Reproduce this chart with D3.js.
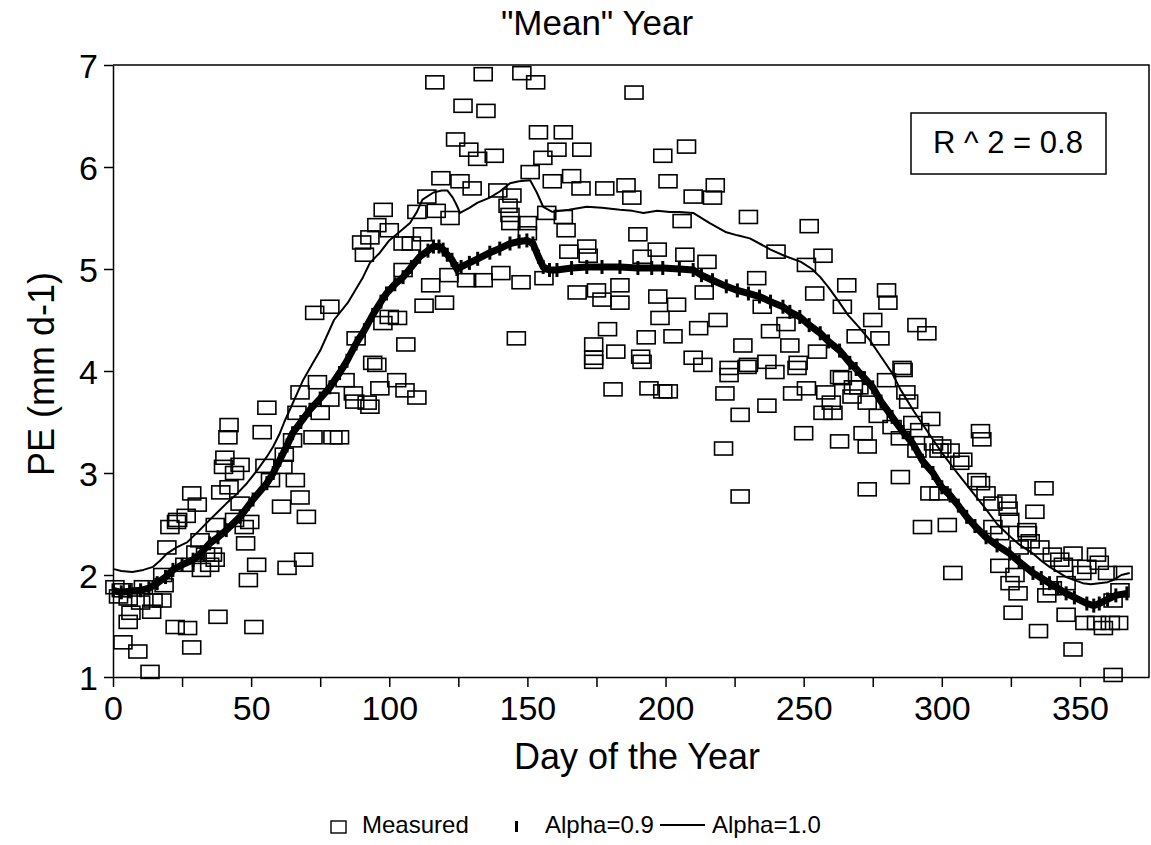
<!DOCTYPE html>
<html>
<head>
<meta charset="utf-8">
<script src="https://cdn.jsdelivr.net/npm/d3@7/dist/d3.min.js"></script>
<style>
  body { margin: 0; background: #fff; }
  svg { display: block; font-family: "Liberation Sans", Arial, Helvetica, sans-serif; }
</style>
</head>
<body>
<svg id="chart" width="1151" height="845"></svg>
<script>
// ---------------- DATA ----------------
const chartTitle = '"Mean" Year';
const xTitle = "Day of the Year";
const yTitle = "PE (mm d-1)";
const r2Label = "R ^ 2 = 0.8";
const legendLabels = ["Measured", "Alpha=0.9", "Alpha=1.0"];
const xTickValues = [0, 25, 50, 75, 100, 125, 150, 175, 200, 225, 250, 275, 300, 325, 350];
const xTickLabels = [0, 50, 100, 150, 200, 250, 300, 350];
const yTickValues = [1, 2, 3, 4, 5, 6, 7];

// Measured points: [day, PE]
const measured = [
  [0.7,1.88],[3.6,1.85],[5.5,1.77],[3.6,1.34],[5.5,1.54],[6.5,1.63],[9,1.25],[11,1.88],[13.4,1.05],[14.5,1.75],[17.7,1.75],[14,1.64],[10,1.73],[18.5,1.9],[2,1.79],
  [20.6,2.47],[23.4,2.54],[19.5,2.27],[22.5,1.49],[27,1.48],[28.5,1.29],[28.5,2.8],[30.5,2.69],[26,2.1],[31.5,2.34],[33.5,2.2],[35,2.1],[30,2.22],[23,2.52],[26.5,2.58],[18,2.0],[32,2.05],
  [38,1.59],[40,3.06],[40.5,3.15],[41.6,3.35],[42,3.47],[42,2.86],[39,2.81],[46,3.08],[48,2.31],[49,1.95],[49.5,2.52],[51,1.49],[52,2.1],[44,2.54],[46,2.7],[37,2.49],[37,2.15],[36,2.2],[47.5,2.47],[44,3.0],
  [54,3.4],[55.7,3.64],[55,3.07],[57,2.93],[61,2.67],[63,2.07],[66,2.93],[67.7,2.76],[69,2.15],[70,2.57],[66.6,3.59],[67.7,3.79],[65,3.32],[62,3.18],[61.5,3.06],
  [72.4,3.35],[74,3.89],[75,3.59],[79.6,3.35],[82,3.35],[78.5,3.72],[73,4.57],[78.5,4.63],[87,3.78],[84,3.91],[88,4.32],
  [92,3.69],[90,5.26],[91,5.14],[95.5,5.43],[97.8,5.58],[93,5.31],[100,5.38],[105,5.25],[95.5,4.06],[96.6,3.83],[102.7,3.91],[105.7,3.81],[93,3.65],[100,4.53],[103,4.52],[106,4.26],[94,4.08],[105,4.99],[97.7,4.47],[87.5,3.7],
  [110,3.74],[116.5,6.83],[124,6.27],[126.7,6.6],[118.7,5.89],[113.6,5.71],[110,5.56],[117,5.57],[122,5.5],[108,5.25],[112,5.34],[115,4.84],[121.6,4.94],[112.6,4.64],[120,4.67],[125.6,5.86],
  [128.8,6.17],[132,6.08],[134,6.91],[135,6.55],[138,6.11],[148,6.92],[153,6.83],[154,6.34],[155.6,6.09],[151,5.95],[130,5.79],[139.3,5.77],[144.4,5.72],[143,5.62],[143.7,5.53],[144,5.45],[150,5.45],[150,5.35],[157,5.55],[159,5.86],[160.7,6.17],[128,4.89],[134,4.89],[140.4,4.96],[147.7,4.87],[156,4.91],[146,4.32],
  [163,6.34],[169.7,6.17],[188.6,6.73],[199,6.11],[166,5.91],[169.4,5.79],[178,5.79],[185.7,5.82],[187.8,5.7],[163,5.51],[164,5.38],[190,5.34],[165,5.17],[171.5,5.22],[172,5.13],[168,4.77],[175,4.79],[183.5,4.84],[183.5,4.67],[177,4.7],[191.5,5.12],[197,5.19],[197.2,4.73],[198,4.52],[179,4.41],[174,4.26],[182,4.19],[174,4.13],[191,4.14],[193,4.33],[174,4.09],[191.5,4.09],[181,3.82],[194,3.83],[199,3.8],[200.9,5.86],
  [207.6,6.2],[210,5.71],[218,5.82],[217,5.7],[206,5.47],[230,5.51],[207,5.14],[215,5.07],[233,4.91],[214,4.77],[204,4.65],[235,4.63],[219,4.5],[212,4.42],[202.7,4.34],[228,4.25],[236.7,4.09],[210,4.13],[223,4.03],[230,4.06],[238,4.39],[201,3.8],[221.5,3.78],[227,3.57],[236.7,3.66],[221,3.24],[227,2.77],[223,3.96],[229.5,4.04],[213.5,4.06],[239.6,3.99],[240,5.17],
  [252,5.42],[257,5.13],[251,5.04],[265.6,4.84],[254,4.76],[264,4.63],[275,4.5],[277.6,4.32],[269,4.34],[243.6,4.46],[245,4.25],[255,4.19],[248,4.08],[250,3.39],[263,3.31],[246,3.78],[251,3.83],[247.6,4.03],[258,3.79],[264,3.93],[268,3.84],[267.5,3.75],[271.5,3.39],[273,3.26],[257,3.59],[260.6,3.59],[260,3.69],[277,3.56],[273,2.84],[280,3.91],[270,3.84],[273,3.69],[280,4.79],[280.5,4.67],[263,3.94],
  [285.6,4.03],[291,4.45],[294.6,4.37],[286,4.01],[287,3.79],[288,3.7],[296,3.53],[285,3.34],[291,3.22],[299,3.22],[293,2.47],[302,2.49],[304,2.02],[285,2.96],[295.7,2.8],[299,2.8],[282,3.45],[289.5,3.49],[292,3.42],[297,3.29],[300,3.26],[303,3.22],[306.5,3.1],[307.6,3.13],
  [314,3.41],[314.5,3.33],[314,2.9],[323.6,2.72],[324,2.65],[337,2.85],[333.7,2.62],[331,2.41],[332,2.33],[321,2.09],[340,2.2],[347.5,2.21],[356,2.2],[344,2.1],[360,2.02],[365.6,2.02],[326.5,2.0],[324.7,1.92],[327.6,1.82],[340,1.87],[338,1.8],[350.7,2.02],[345,1.92],[364.5,1.85],[362,1.75],[325.8,1.63],[345,1.61],[351.8,1.53],[356,1.53],[361,1.53],[364,1.53],[335,1.45],[347.5,1.27],[362,1.02],[358.5,1.48],[312.7,2.93],[316,2.8],[318.5,2.7],[324.6,2.54],[330.8,2.44],[335.5,2.27],[342.7,2.15],[352.5,2.08],[357,2.12],[318.5,2.47],[321,2.41],[328,2.27]
];

// Alpha = 0.9 model: [day, PE]
const alpha09 = [
  [0,1.85],[3,1.83],[6,1.84],[10,1.85],[13,1.87],[16,1.92],[19,1.98],[21.7,2.05],[25,2.1],[29,2.15],[32,2.22],[35,2.31],[38,2.37],[41,2.44],[46,2.57],[50.7,2.74],[55.7,2.9],[58,3.0],[60.4,3.13],[63,3.27],[65,3.39],[68,3.5],[71.3,3.62],[75,3.73],[78.5,3.84],[82,3.98],[84.7,4.1],[88,4.27],[91,4.4],[94,4.55],[97,4.68],[99,4.76],[102,4.85],[105,4.92],[108,5.02],[111,5.12],[114,5.18],[116,5.22],[118,5.22],[119.5,5.19],[121,5.14],[122.7,5.09],[124.5,5.0],[126,5.02],[129,5.06],[132,5.1],[136.4,5.16],[140,5.2],[143.7,5.25],[147,5.27],[149.8,5.28],[152,5.25],[154,5.12],[155.7,5.02],[158,4.99],[160.7,4.99],[166,5.01],[171.5,5.02],[177,5.02],[183.5,5.02],[190,5.01],[195,5.01],[199,5.01],[205,5.0],[210,4.99],[213,4.94],[217,4.89],[222,4.83],[226,4.79],[230,4.76],[234,4.73],[238,4.68],[242.5,4.63],[245,4.58],[248.6,4.53],[252,4.45],[256,4.37],[259,4.29],[263,4.2],[266.7,4.08],[269,4.02],[272,3.93],[275,3.84],[278,3.7],[282,3.55],[286,3.4],[289.5,3.29],[293,3.12],[296.8,3.0],[300,2.86],[303,2.78],[306,2.68],[309,2.57],[312,2.48],[316,2.37],[320,2.29],[324.6,2.21],[328,2.13],[333,2.02],[336,1.97],[339,1.92],[342,1.87],[345,1.82],[348,1.78],[352.5,1.72],[355,1.7],[357,1.72],[360,1.76],[363,1.8],[367,1.82]
];

// Alpha = 1.0 model: [day, PE]
const alpha10 = [
  [0,2.06],[3,2.04],[7,2.03],[11,2.05],[14.5,2.08],[17,2.14],[19.5,2.21],[23,2.27],[26.8,2.32],[31,2.43],[35,2.54],[38,2.62],[41,2.7],[45,2.8],[48.5,2.9],[52,3.02],[55.7,3.16],[58,3.26],[60.4,3.39],[62,3.5],[64,3.62],[66.5,3.77],[68.8,3.91],[72.4,4.08],[75,4.2],[80,4.5],[85,4.67],[90.5,4.92],[93,5.06],[96.6,5.16],[100,5.28],[104,5.37],[107.5,5.45],[110,5.56],[112,5.68],[116,5.75],[119,5.77],[121,5.77],[123,5.7],[124.5,5.62],[125.6,5.55],[129,5.6],[132,5.65],[136.4,5.7],[140,5.76],[143.7,5.84],[147,5.86],[151,5.87],[153.4,5.75],[155.7,5.61],[159,5.56],[165,5.58],[171.5,5.61],[177,5.6],[183.5,5.58],[188,5.57],[192,5.55],[197,5.57],[201.6,5.56],[205,5.56],[210,5.55],[216,5.45],[222,5.36],[226,5.33],[230.5,5.3],[234,5.25],[238,5.19],[243,5.13],[249,5.07],[253,5.0],[256,4.92],[259,4.82],[263,4.67],[266,4.55],[270,4.43],[274,4.3],[278,4.14],[282,3.98],[285,3.82],[290,3.6],[295,3.4],[300,3.2],[305,3.02],[310,2.85],[315,2.68],[320,2.5],[325,2.37],[328,2.3],[333,2.21],[336,2.14],[339,2.08],[342,2.03],[345,1.98],[348,1.95],[351,1.92],[354,1.91],[357,1.92],[360,1.93],[362,1.95],[365,2.0],[368,2.02]
];

// ---------------- CHART ----------------
const svg = d3.select("#chart");
const plot = { left: 113, right: 1149, top: 65, bottom: 677 };

const x = d3.scaleLinear().domain([0, 375]).range([plot.left, plot.right]);
const y = d3.scaleLinear().domain([1, 7]).range([plot.bottom, plot.top]);

// frame (top and right)
svg.append("path")
  .attr("d", `M${plot.left},${plot.top}H${plot.right}V${plot.bottom}`)
  .attr("fill", "none").attr("stroke", "#000").attr("stroke-width", 1.5);

// x axis
const xAxis = svg.append("g")
  .attr("transform", `translate(0,${plot.bottom})`)
  .call(d3.axisBottom(x).tickValues(xTickValues).tickSize(10).tickSizeOuter(0)
    .tickFormat(d => xTickLabels.includes(d) ? d : ""));
xAxis.select(".domain").attr("stroke-width", 1.5);
xAxis.selectAll(".tick line").attr("stroke-width", 1.5);
xAxis.selectAll(".tick text")
  .attr("font-size", 34).attr("font-family", "Liberation Sans, Arial, sans-serif")
  .attr("fill", "#000").attr("dy", 0).attr("y", 43);

// y axis
const yAxis = svg.append("g")
  .attr("transform", `translate(${plot.left},0)`)
  .call(d3.axisLeft(y).tickValues(yTickValues).tickSize(9).tickSizeOuter(0).tickFormat(d3.format("d")));
yAxis.select(".domain").attr("stroke-width", 1.5);
yAxis.selectAll(".tick line").attr("stroke-width", 1.5);
yAxis.selectAll(".tick text")
  .attr("font-size", 34).attr("font-family", "Liberation Sans, Arial, sans-serif")
  .attr("fill", "#000").attr("x", -15).attr("dy", "0.36em");

// title & axis titles
svg.append("text").attr("x", 597).attr("y", 35).attr("text-anchor", "middle")
  .attr("font-size", 35).text(chartTitle);
svg.append("text").attr("x", 637).attr("y", 769).attr("text-anchor", "middle")
  .attr("font-size", 36).text(xTitle);
svg.append("text").attr("transform", "translate(54,374) rotate(-90)")
  .attr("text-anchor", "middle").attr("font-size", 36).text(yTitle);

// Alpha=0.9 (thick jagged band of vertical bars)
const line = d3.line().x(d => x(d[0])).y(d => y(d[1]));
svg.append("path").datum(alpha09)
  .attr("d", line).attr("fill", "none").attr("stroke", "#000")
  .attr("stroke-width", 7).attr("stroke-linejoin", "miter");
svg.append("g").selectAll("rect").data(alpha09).join("rect")
  .attr("x", d => x(d[0]) - 1.5).attr("y", d => y(d[1]) - 7)
  .attr("width", 3).attr("height", 14).attr("fill", "#000");

// Alpha=1.0 thin line
svg.append("path").datum(alpha10)
  .attr("d", line).attr("fill", "none").attr("stroke", "#000")
  .attr("stroke-width", 2).attr("stroke-linejoin", "round");

// Measured squares
const sqW = 18, sqH = 13;
svg.append("g").selectAll("rect").data(measured).join("rect")
  .attr("x", d => x(d[0]) - sqW / 2).attr("y", d => y(d[1]) - sqH / 2)
  .attr("width", sqW).attr("height", sqH)
  .attr("fill", "none").attr("stroke", "#000").attr("stroke-width", 1.6);

// R^2 box
svg.append("rect").attr("x", 911).attr("y", 113).attr("width", 195).attr("height", 61)
  .attr("fill", "#fff").attr("stroke", "#000").attr("stroke-width", 1.5);
svg.append("text").attr("x", 1008).attr("y", 153).attr("text-anchor", "middle")
  .attr("font-size", 31).text(r2Label);

// Legend
const lg = svg.append("g").attr("font-size", 24);
lg.append("rect").attr("x", 331).attr("y", 821).attr("width", 15).attr("height", 12)
  .attr("fill", "none").attr("stroke", "#000").attr("stroke-width", 1.4);
lg.append("text").attr("x", 362).attr("y", 833).text(legendLabels[0]);
lg.append("rect").attr("x", 515).attr("y", 821).attr("width", 3).attr("height", 11).attr("fill", "#000");
lg.append("text").attr("x", 545).attr("y", 833).text(legendLabels[1]);
lg.append("line").attr("x1", 660).attr("x2", 705).attr("y1", 825).attr("y2", 825)
  .attr("stroke", "#000").attr("stroke-width", 2);
lg.append("text").attr("x", 712).attr("y", 833).text(legendLabels[2]);
</script>
</body>
</html>
